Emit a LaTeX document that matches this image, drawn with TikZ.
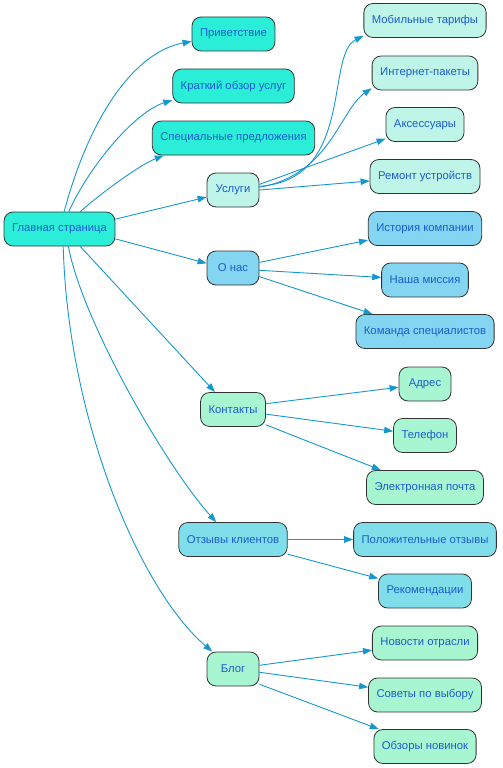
\documentclass[tikz,border=0pt]{standalone}
\usepackage{fontspec}
\setmainfont{Liberation Sans}
\usetikzlibrary{arrows.meta}
\definecolor{homefill}{RGB}{42,238,216}
\definecolor{svcfill}{RGB}{190,245,232}
\definecolor{aboutfill}{RGB}{132,213,242}
\definecolor{greenfill}{RGB}{168,245,210}
\definecolor{revfill}{RGB}{128,222,234}
\definecolor{labelblue}{RGB}{28,92,208}
\definecolor{linkblue}{RGB}{22,152,206}
\tikzset{
  page/.style={draw=black!80,line width=0.8pt,rounded corners=9pt,
    inner xsep=8pt,inner ysep=0pt,minimum height=34pt,minimum width=52pt,
    text=labelblue,font=\fontsize{11.3}{13}\selectfont},
  link/.style={draw=linkblue,line width=0.9pt,
    -{Triangle[length=9pt,width=6.5pt]}}
}
\begin{document}
\begin{tikzpicture}[x=1pt,y=-1pt]
    \useasboundingbox (0,0) rectangle (503,768);
    % left and middle columns
    \node (home) [page,fill=homefill] at (59.5,229) {Главная страница};
    \node (hello) [page,fill=homefill] at (233.5,34) {Приветствие};
    \node (brief) [page,fill=homefill] at (233.5,86) {Краткий обзор услуг};
    \node (offers) [page,fill=homefill] at (233.5,138) {Специальные предложения};
    \node (svc) [page,fill=svcfill] at (233,190) {Услуги};
    \node (about) [page,fill=aboutfill] at (233,268) {О нас};
    \node (contacts) [page,fill=greenfill] at (233,409.5) {Контакты};
    \node (reviews) [page,fill=revfill] at (233,539.5) {Отзывы клиентов};
    \node (blog) [page,fill=greenfill] at (233,669) {Блог};
    % right column
    \node (mobile) [page,fill=svcfill] at (425,20.5) {Мобильные тарифы};
    \node (inet) [page,fill=svcfill] at (425,73) {Интернет-пакеты};
    \node (acc) [page,fill=svcfill] at (425,124.5) {Аксессуары};
    \node (repair) [page,fill=svcfill] at (425,176.5) {Ремонт устройств};
    \node (history) [page,fill=aboutfill] at (425,228.5) {История компании};
    \node (mission) [page,fill=aboutfill] at (425,280) {Наша миссия};
    \node (team) [page,fill=aboutfill] at (425,331.5) {Команда специалистов};
    \node (address) [page,fill=greenfill] at (425,384) {Адрес};
    \node (phone) [page,fill=greenfill] at (425,435.5) {Телефон};
    \node (email) [page,fill=greenfill] at (425,487.5) {Электронная почта};
    \node (positive) [page,fill=revfill] at (425,539.5) {Положительные отзывы};
    \node (recs) [page,fill=revfill] at (425,591) {Рекомендации};
    \node (news) [page,fill=greenfill] at (425,643) {Новости отрасли};
    \node (tips) [page,fill=greenfill] at (425,695) {Советы по выбору};
    \node (newitems) [page,fill=greenfill] at (425,746.5) {Обзоры новинок};
    % from the home page
    \draw [link] (home.75) .. controls (90,115) and (135,52) .. (hello.190);
    \draw [link] (home.62) .. controls (90,165) and (135,112) .. (brief.193);
    \draw [link] (home.40) .. controls (105,190) and (140,165) .. (offers.194);
    \draw [link] (home.10) -- (svc.195);
    \draw [link] (home.-10) -- (about.170);
    \draw [link] (home.-40) -- (contacts.136);
    \draw [link] (home.-63) .. controls (82,320) and (165,465) .. (reviews.134);
    \draw [link] (home.-78) .. controls (68,420) and (140,590) .. (blog.140);
    % services
    \draw [link] (svc.8) .. controls (355,180) and (325,55) .. (mobile.194);
    \draw [link] (svc.6) .. controls (330,175) and (340,110) .. (inet.196);
    \draw [link] (svc.12) -- (acc);
    \draw [link] (svc.east) -- (repair);
    % about
    \draw [link] (about.12) -- (history);
    \draw [link] (about.-5) -- (mission);
    \draw [link] (about.-18) -- (team);
    % contacts
    \draw [link] (contacts.10) -- (address);
    \draw [link] (contacts.-8) -- (phone);
    \draw [link] (contacts.-25) -- (email);
    % reviews
    \draw [link] (reviews) -- (positive);
    \draw [link] (reviews.-15) -- (recs);
    % blog
    \draw [link] (blog.8) -- (news);
    \draw [link] (blog.-7) -- (tips);
    \draw [link] (blog.-30) -- (newitems);
\end{tikzpicture}
\end{document}
